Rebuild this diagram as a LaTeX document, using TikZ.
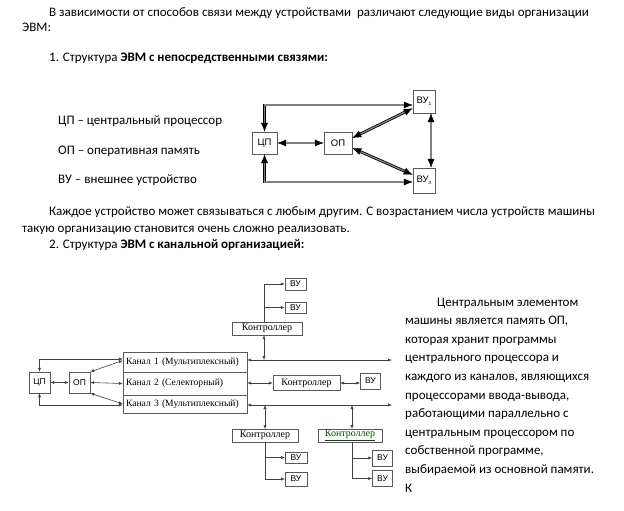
\documentclass[tikz,border=0pt]{standalone}
\usepackage{fontspec}
\setmainfont{Carlito}
\newfontfamily\diagsans{Liberation Sans}
\newfontfamily\diagserif{Liberation Serif}
\usetikzlibrary{arrows.meta}
\newcommand{\subvu}[1]{\raisebox{-2pt}{\fontsize{5}{5}\selectfont #1}}

\begin{document}
\begin{tikzpicture}[x=1pt, y=-1pt,
  txt/.style={anchor=base west, inner sep=0pt, font=\fontsize{13}{15}\selectfont},
  boxa/.style={draw=black!65, fill=white, inner sep=0pt, font=\diagsans\fontsize{9.5}{10}\selectfont},
  boxb/.style={draw=black!65, fill=white, inner sep=0pt, font=\diagsans\fontsize{8.5}{10}\selectfont},
  ctrl/.style={draw=black!65, fill=white, inner xsep=3pt, inner ysep=0pt, align=left,
    font=\diagserif\fontsize{10}{11}\selectfont},
  chan/.style={draw=black!65, fill=white, inner xsep=3pt, inner ysep=0pt, text width=118pt,
    align=left, font=\diagserif\fontsize{9.6}{11}\selectfont},
  dbl/.style={draw=black!50, line width=0.5pt,
    {Latex[length=9pt,width=7pt,color=black]}-{Latex[length=9pt,width=7pt,color=black]},
    preaction={arrows=-, draw=black, double=black!50, double distance=1.2pt, line width=0.8pt,
      shorten <=5pt, shorten >=5pt}},
  lnk/.style={draw=black!75, line width=0.6pt},
  tip/.style={-{Latex[length=4pt,width=3.2pt]}},
  tips/.style={{Latex[length=4pt,width=3.2pt]}-{Latex[length=4pt,width=3.2pt]}}
]
\useasboundingbox (0,0) rectangle (624,511);

%%% text above %%%
\node[txt] (t1) at (49,17) {В зависимости от способов связи между устройствами\ \ различают следующие виды организации};
\node[txt] (t2) at (22,32) {ЭВМ:};
\node[txt] (t3) at (49,62) {1. Структура \textbf{ЭВМ с непосредственными связями:}};
\node[txt] (la) at (58,124.5) {ЦП – центральный процессор};
\node[txt] (lb) at (58,154.5) {ОП – оперативная память};
\node[txt] (lc) at (58,183.5) {ВУ – внешнее устройство};
\node[txt] (t4) at (49,215) {Каждое устройство может связываться с любым другим. С возрастанием числа устройств машины};
\node[txt] (t5) at (22,232.5) {такую организацию становится очень сложно реализовать.};
\node[txt] (t6) at (49,248.5) {2. Структура \textbf{ЭВМ с канальной организацией:}};

%%% structure 1 %%%
\node[boxa, minimum width=25pt, minimum height=22pt] (cpa) at (264.5,143) {ЦП};
\node[boxa, minimum width=28pt, minimum height=22pt] (opa) at (338,143) {ОП};
\node[boxa, minimum width=22pt, minimum height=23pt] (vu1) at (424,101.5) {ВУ\subvu{1}};
\node[boxa, minimum width=22pt, minimum height=25pt] (vun) at (424,180.5) {ВУ\subvu{n}};

\coordinate (ta) at (264.5,105);
\coordinate (ba) at (264.5,182);
\draw[dbl] (cpa.north) -- (ta) -- (ta -| vu1.west);
\draw[dbl] (cpa.south) -- (ba) -- (ba -| vun.west);
\draw[dbl] (cpa.east) -- (opa.west);
\draw[dbl] ([yshift=5pt]opa.east) -- ([yshift=5pt]vu1.south west);
\draw[dbl] ([yshift=-5pt]opa.east) -- ([yshift=-7pt]vun.north west);
\draw[dbl] ([xshift=7pt]vu1.south) -- ([xshift=7pt]vun.north);

%%% structure 2 %%%
\node[boxb, minimum width=21pt, minimum height=21pt] (cpb) at (39.5,382.5) {ЦП};
\node[boxb, minimum width=21pt, minimum height=21pt] (opb) at (79.5,382.5) {ОП};
\node[chan, minimum height=20pt] (ch1) at (185,362) {Канал 1 (Мультиплексный)};
\node[chan, minimum height=23pt] (ch2) at (185,383.5) {Канал 2 (Селекторный)};
\node[chan, minimum height=18pt] (ch3) at (185,404) {Канал 3 (Мультиплексный)};

\coordinate (tb) at (39.5,359);
\coordinate (bb) at (39.5,405);
\draw[lnk,tips] (cpb.north) -- (tb) -- (tb -| ch1.west);
\draw[lnk,tips] (cpb.south) -- (bb) -- (bb -| ch3.west);
\draw[lnk,tips] (cpb.east) -- (opb.west);
\draw[lnk,tips] (opb.east) -- (ch2.west);
\draw[lnk,tips] (opb.north east) -- ([yshift=1.5pt]ch1.west);
\draw[lnk,tips] (opb.south east) -- (ch3.west);

%% buses
\coordinate (e1) at (392,360);
\coordinate (e3) at (392,405);
\draw[lnk,tips] (e1 -| ch1.east) -- (e1);
\draw[lnk,tips] (e3 -| ch3.east) -- (e3);

%% upper controller
\node[ctrl, minimum width=70pt, minimum height=13pt] (ctt) at (267,328.5) {Контроллер};
\node[boxb, minimum width=21pt, minimum height=12pt] (vt1) at (295.5,284) {ВУ};
\node[boxb, minimum width=21pt, minimum height=11pt] (vt2) at (295.5,307.5) {ВУ};
\draw[lnk,tips] ([xshift=-3pt]ctt.south) -- ([xshift=-3pt]ctt.south |- e1);
\draw[lnk,tip] ([xshift=-3pt]ctt.north) |- (vt1.west);
\draw[lnk,tip] ([xshift=-3pt]ctt.north |- vt2) -- (vt2.west);

%% middle controller
\node[ctrl, minimum width=67pt, minimum height=15pt] (ctm) at (306.5,383) {Контроллер};
\node[boxb, minimum width=20pt, minimum height=16pt] (vum) at (370.5,381) {ВУ};
\draw[lnk,tips] (ctm.west -| ch2.east) -- (ctm.west);
\draw[lnk,tips] (ctm.east) -- (ctm.east -| vum.west);

%% lower controllers
\node[ctrl, minimum width=65.5pt, minimum height=12.5pt] (ctl) at (265,435.5) {Контроллер};
\node[ctrl, minimum width=63.5pt, minimum height=12.5pt, text=green!30!black] (ctr) at (350,435.5) {\underline{Контроллер}};
\node[boxb, minimum width=21.5pt, minimum height=11.5pt] (vl1) at (296,457.5) {ВУ};
\node[boxb, minimum width=21.5pt, minimum height=14pt] (vl2) at (296,479) {ВУ};
\node[boxb, minimum width=20pt, minimum height=16pt] (vr1) at (382.5,458) {ВУ};
\node[boxb, minimum width=20pt, minimum height=16pt] (vr2) at (382.5,478.5) {ВУ};
\draw[lnk,tips] (ctl.north |- e3) -- (ctl.north);
\draw[lnk,tips] ([xshift=2pt]ctr.north |- e3) -- ([xshift=2pt]ctr.north);
\draw[lnk,tip] (ctl.south) |- (vl2.west);
\draw[lnk,tip] (ctl.south |- vl1) -- (vl1.west);
\draw[lnk,tip] ([xshift=2pt]ctr.south) |- (vr2.west);
\draw[lnk,tip] ([xshift=2pt]ctr.south |- vr1) -- (vr1.west);

%%% text at the right %%%
\node[txt] (r1) at (437,306) {Центральным элементом};
\node[txt] (r2) at (405,324.6) {машины является память ОП,};
\node[txt] (r3) at (405,343.2) {которая хранит программы};
\node[txt] (r4) at (405,361.8) {центрального процессора и};
\node[txt] (r5) at (405,380.4) {каждого из каналов, являющихся};
\node[txt] (r6) at (405,399) {процессорами ввода-вывода,};
\node[txt] (r7) at (405,417.6) {работающими параллельно с};
\node[txt] (r8) at (405,436.2) {центральным процессором по};
\node[txt] (r9) at (405,454.8) {собственной программе,};
\node[txt] (r10) at (405,473.4) {выбираемой из основной памяти.};
\node[txt] (r11) at (405,492) {К};
\end{tikzpicture}
\end{document}
